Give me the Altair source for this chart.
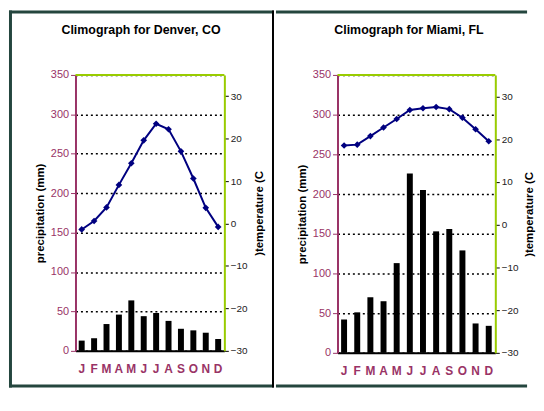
import altair as alt
import pandas as pd

months = ["Jan", "Feb", "Mar", "Apr", "May", "Jun", "Jul", "Aug", "Sep", "Oct", "Nov", "Dec"]
denver_precip = [13, 16, 34, 46, 64, 44, 48, 38, 28, 26, 23, 15]
denver_temp = [-1.4, 0.6, 3.8, 9.1, 14.2, 19.6, 23.5, 22.2, 17.0, 10.6, 3.7, -0.8]
miami_precip = [42, 51, 70, 65, 113, 226, 205, 153, 156, 129, 37, 34]
miami_temp = [18.5, 18.7, 20.7, 22.7, 24.7, 26.8, 27.2, 27.5, 27.0, 25.0, 22.3, 19.5]
precip_ticks = [0, 50, 100, 150, 200, 250, 300, 350]
temp_ticks = [-30, -20, -10, 0, 10, 20, 30]

FONT = "Liberation Sans"
MAROON = "#993366"
GREEN = "#99CC00"
NAVY = "#000080"
BAND = "#24463e"


def bar_rect(x1, x2, y1, y2, color):
    return alt.Chart(alt.Data(values=[{}])).mark_rect(color=color).encode(
        x=alt.value(x1), x2=alt.value(x2), y=alt.value(y1), y2=alt.value(y2)
    )


def panel(title, precip, temp, width, height, borders, title_x):
    df = pd.DataFrame({"month": months, "precip": precip, "temp": temp})
    x = alt.X(
        "month:N", sort=months,
        scale=alt.Scale(paddingInner=0, paddingOuter=0),
        axis=alt.Axis(title=None, labelExpr="substring(datum.value, 0, 1)", labelAngle=0,
                      ticks=False, tickSize=0, labelPadding=13, labelColor=MAROON,
                      labelFont=FONT, labelFontSize=12, labelFontWeight="bold",
                      domainColor="black", domainWidth=2),
    )
    bars = alt.Chart(df).mark_bar(size=6, color="black").encode(
        x=x,
        y=alt.Y("precip:Q", scale=alt.Scale(domain=[0, 350], nice=False),
                axis=alt.Axis(orient="left", values=precip_ticks, title="precipitation (mm)",
                              grid=True, gridDash=[2, 3], gridColor="black", gridWidth=1.5,
                              domainColor=MAROON, domainWidth=2, tickColor=MAROON, tickSize=5,
                              labelColor=MAROON, labelFont=FONT, labelFontSize=11, labelPadding=2,
                              titleFont=FONT, titleFontSize=11.5, titleFontWeight="bold",
                              titleColor="black", titlePadding=5)),
    )
    line = alt.Chart(df).mark_line(
        color=NAVY, strokeWidth=2,
        point=alt.OverlayMarkDef(shape="diamond", size=45, filled=True, color=NAVY),
    ).encode(
        x=x,
        y=alt.Y("temp:Q", scale=alt.Scale(domain=[-30, 35], nice=False, zero=False),
                axis=alt.Axis(orient="right", values=temp_ticks, title=")temperature (C",
                              grid=False, domainColor=GREEN, domainWidth=2, tickColor="black",
                              tickSize=4, labelColor="#222222", labelFont=FONT, labelFontSize=10,
                              labelPadding=2, titleFont=FONT, titleFontSize=11.5,
                              titleFontWeight="bold", titleColor="black", titleAngle=270,
                              titleBaseline="top", titlePadding=6)),
    )
    title_mark = alt.Chart(alt.Data(values=[{}])).mark_text(
        text=title, font=FONT, fontSize=12.5, fontWeight="bold", align="center",
        baseline="alphabetic", color="black",
    ).encode(x=alt.value(title_x), y=alt.value(-41))
    top_rule = alt.Chart(alt.Data(values=[{}])).mark_rule(color=GREEN, strokeWidth=2).encode(
        x=alt.value(0), x2=alt.value(width), y=alt.value(0)
    )
    frame_layers = [bar_rect(*b) for b in borders]
    return alt.layer(*frame_layers, title_mark, bars, line, top_rule).resolve_scale(
        y="independent"
    ).properties(width=width, height=height)


denver_borders = [
    (-67, 200, -65, -62, BAND),   # top band
    (-67, -64, -65, 315, BAND),   # left band
    (-67, 200, 312, 315, BAND),   # bottom band
    (198, 200, -65, 315, "black"),  # divider
]
miami_borders = [
    (-62, 191, -65, -62, BAND),   # top band
    (-62, 191, 312, 315, BAND),   # bottom band
]

denver = panel("Climograph for Denver, CO", denver_precip, denver_temp, 150, 278,
               denver_borders, 66)
miami = panel("Climograph for Miami, FL", miami_precip, miami_temp, 159, 280,
              miami_borders, 72)

chart = alt.hconcat(denver, miami, spacing=0).properties(
    padding=0, background="white"
).configure_view(stroke=None).configure(font=FONT)

chart.save("out.html", embed_options={"renderer": "svg", "actions": False})
